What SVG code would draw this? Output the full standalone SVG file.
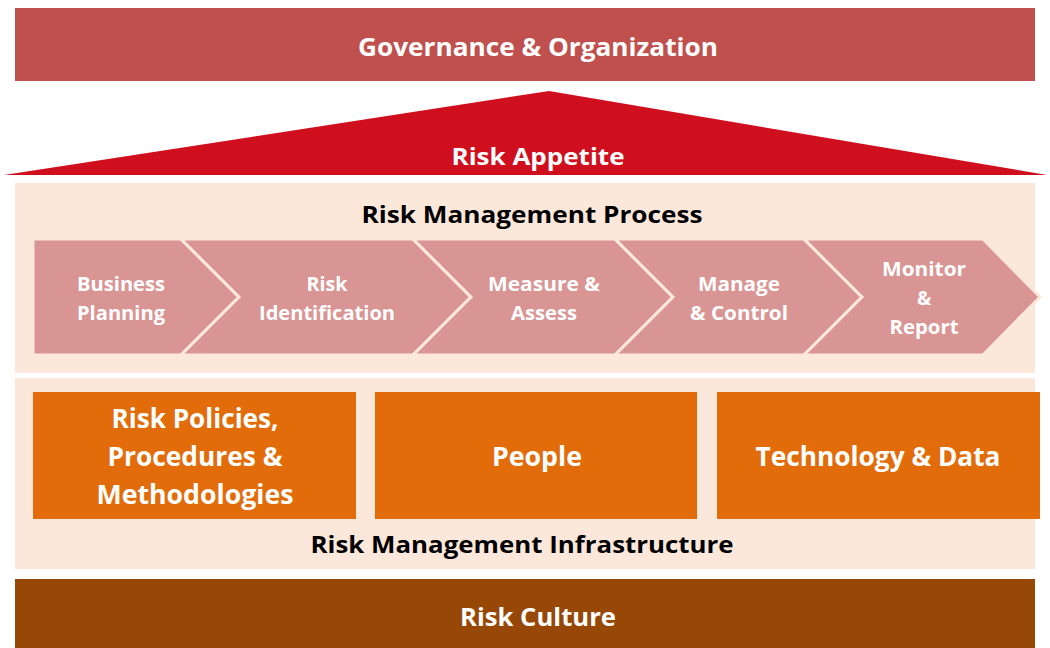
<svg xmlns="http://www.w3.org/2000/svg" width="1050" height="648" viewBox="0 0 1050 648">
<style>
text{font-family:"Open Sans","Noto Sans","Liberation Sans",sans-serif;font-weight:bold;text-anchor:middle}
.w{fill:#FFFFFF}
.k{fill:#000000}
.chev{fill:#D99594;stroke:#FCE8DA;stroke-width:3;stroke-linejoin:miter}
.box{fill:#E36C0A}
.panel{fill:#FCE8DA}
.t26{font-size:25px}
.t24{font-size:23px}
.t20{font-size:19px}
.t27{font-size:26px}
</style>
<rect width="1050" height="648" fill="#FFFFFF"/>
<g id="governance">
<rect x="15" y="8" width="1020" height="73" fill="#C0504D"/>
<text class="w t26" x="538" y="56" textLength="360" lengthAdjust="spacingAndGlyphs">Governance &amp; Organization</text>
</g>
<g id="appetite">
<polygon points="4,175 549,91 1047,175" fill="#CF0F1E"/>
<text class="w t24" x="538" y="165" textLength="173" lengthAdjust="spacingAndGlyphs">Risk Appetite</text>
</g>
<g id="process">
<rect class="panel" x="15" y="183" width="1020" height="190"/>
<text class="k t24" x="532" y="223" textLength="341" lengthAdjust="spacingAndGlyphs">Risk Management Process</text>
</g>
<g id="business-planning">
<polygon class="chev" points="33,239 181,239 239,297 181,355 33,355"/>
<text class="w t20" x="121" y="291" textLength="88" lengthAdjust="spacingAndGlyphs">Business</text>
<text class="w t20" x="121" y="320" textLength="88" lengthAdjust="spacingAndGlyphs">Planning</text>
</g>
<g id="risk-identification">
<polygon class="chev" points="181,239 413,239 471,297 413,355 181,355 239,297"/>
<text class="w t20" x="327" y="291" textLength="41" lengthAdjust="spacingAndGlyphs">Risk</text>
<text class="w t20" x="327" y="320" textLength="136" lengthAdjust="spacingAndGlyphs">Identification</text>
</g>
<g id="measure-assess">
<polygon class="chev" points="413,239 615,239 673,297 615,355 413,355 471,297"/>
<text class="w t20" x="544" y="291" textLength="112" lengthAdjust="spacingAndGlyphs">Measure &amp;</text>
<text class="w t20" x="544" y="320" textLength="66" lengthAdjust="spacingAndGlyphs">Assess</text>
</g>
<g id="manage-control">
<polygon class="chev" points="615,239 804,239 862,297 804,355 615,355 673,297"/>
<text class="w t20" x="739" y="291" textLength="82" lengthAdjust="spacingAndGlyphs">Manage</text>
<text class="w t20" x="739" y="320" textLength="98" lengthAdjust="spacingAndGlyphs">&amp; Control</text>
</g>
<g id="monitor-report">
<polygon class="chev" points="804,239 983,239 1040,297 983,355 804,355 862,297"/>
<text class="w t20" x="924" y="276" textLength="84" lengthAdjust="spacingAndGlyphs">Monitor</text>
<text class="w t20" x="924" y="305">&amp;</text>
<text class="w t20" x="924" y="334" textLength="69" lengthAdjust="spacingAndGlyphs">Report</text>
</g>
<g id="infrastructure">
<rect class="panel" x="15" y="378" width="1020" height="191"/>
<text class="k t24" x="522" y="553" textLength="423" lengthAdjust="spacingAndGlyphs">Risk Management Infrastructure</text>
</g>
<g id="policies">
<rect class="box" x="33" y="392" width="323" height="127"/>
<text class="w t27" x="195" y="428" textLength="167" lengthAdjust="spacingAndGlyphs">Risk Policies,</text>
<text class="w t27" x="195" y="466" textLength="175" lengthAdjust="spacingAndGlyphs">Procedures &amp;</text>
<text class="w t27" x="195" y="504" textLength="197" lengthAdjust="spacingAndGlyphs">Methodologies</text>
</g>
<g id="people">
<rect class="box" x="375" y="392" width="322" height="127"/>
<text class="w t27" x="537" y="466" textLength="90" lengthAdjust="spacingAndGlyphs">People</text>
</g>
<g id="technology">
<rect class="box" x="717" y="392" width="323" height="127"/>
<text class="w t27" x="878" y="466" textLength="245" lengthAdjust="spacingAndGlyphs">Technology &amp; Data</text>
</g>
<g id="culture">
<rect x="15" y="579" width="1020" height="69" fill="#974806"/>
<text class="w t26" x="538" y="626" textLength="156" lengthAdjust="spacingAndGlyphs">Risk Culture</text>
</g>
<g id="connectors"></g>
</svg>
